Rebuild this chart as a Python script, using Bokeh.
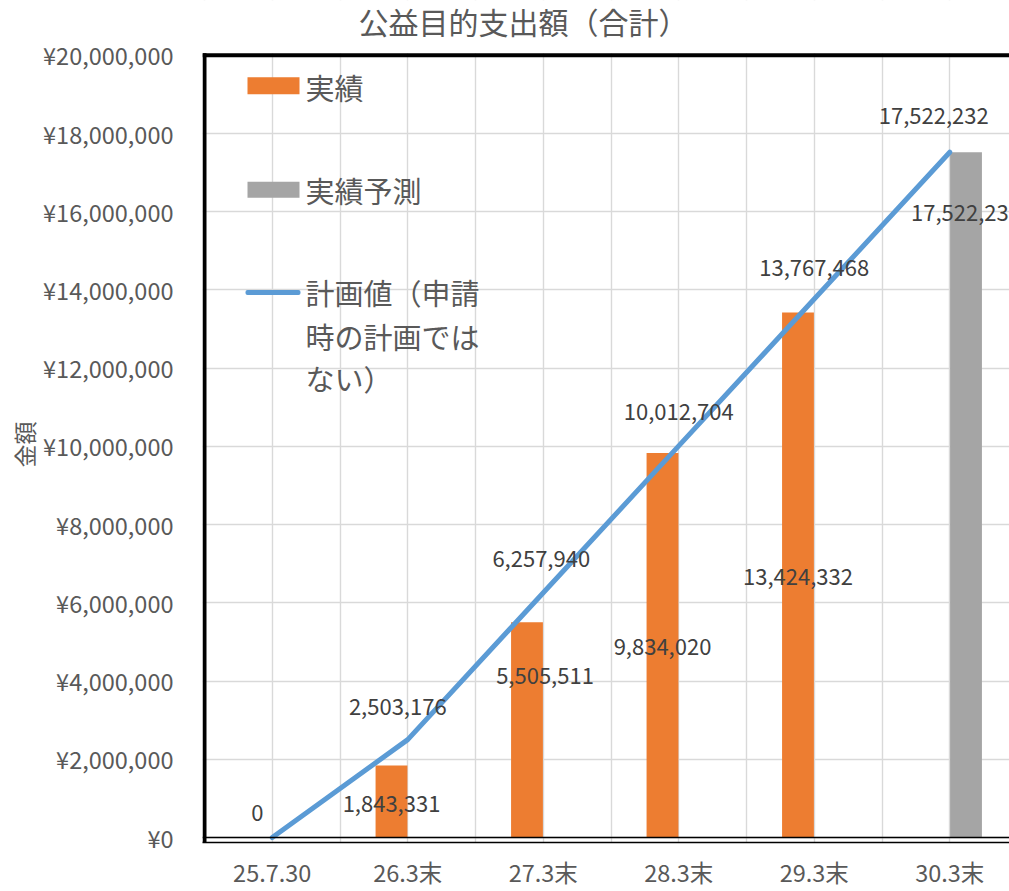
from bokeh.plotting import figure
from bokeh.models import (Range1d, FixedTicker, Span, Label, BoxAnnotation,
                          ColumnDataSource, Title)
from bokeh.core.properties import value
from bokeh.embed import file_html
from bokeh.resources import INLINE

# ---------------- data ----------------
categories = ["25.7.30", "26.3末", "27.3末", "28.3末", "29.3末", "30.3末"]
actual_cats = ["26.3末", "27.3末", "28.3末", "29.3末"]
actual_values = [1843331, 5505511, 9834020, 13424332]
forecast_cats = ["30.3末"]
forecast_values = [17522232]
plan_values = [0, 2503176, 6257940, 10012704, 13767468, 17522232]
y_ticks = [0, 2000000, 4000000, 6000000, 8000000, 10000000,
           12000000, 14000000, 16000000, 18000000, 20000000]
y_tick_labels = ["¥0", "¥2,000,000", "¥4,000,000", "¥6,000,000", "¥8,000,000",
                 "¥10,000,000", "¥12,000,000", "¥14,000,000", "¥16,000,000",
                 "¥18,000,000", "¥20,000,000"]
y_max = 20000000
title_text = "公益目的支出額（合計）"
y_title = "金額"
legend_labels = ["実績", "実績予測", "計画値（申請", "時の計画では", "ない）"]

# ---------------- layout / style (pixels) ----------------
FONT = "Noto Sans CJK JP"
ORANGE, GRAY, BLUE = "#ED7D31", "#A5A5A5", "#5B9BD5"
CAT_PX = 135.5          # px per category
LEFT0_PX = 204          # page x of category axis origin
ZERO_PX = 840           # page y of value 0
PX_PER_UNIT = 39.25 / 1e6
PAGE_M = 0              # the Bokeh page template has no body margin

def sx(px):
    return (px - LEFT0_PX) / CAT_PX

def sy(py):
    return (ZERO_PX - py) / PX_PER_UNIT

frame_left_page, frame_right_page = 202, 1009
frame_top_page, frame_bottom_page = 0, 845
W, H = 1009, 891

p = figure(width=W, height=H, output_backend="svg", toolbar_location=None, title=None,
           x_range=Range1d(sx(frame_left_page), sx(frame_right_page)),
           y_range=Range1d(sy(frame_bottom_page), sy(frame_top_page)),
           min_border_left=frame_left_page - PAGE_M, min_border_right=0,
           min_border_top=frame_top_page - PAGE_M,
           min_border_bottom=H - (frame_bottom_page - PAGE_M))
p.outline_line_color = None
p.background_fill_color = "white"
p.border_fill_color = "white"

# grid
p.xgrid.ticker = FixedTicker(ticks=[k * 0.5 for k in range(2 * len(categories) + 1)])
p.ygrid.ticker = FixedTicker(ticks=y_ticks)
for g in (p.xgrid, p.ygrid):
    g.grid_line_color = "#D9D9D9"
    g.grid_line_width = 1.4

# white band above the plot area (title zone), drawn over the grid
p.add_layout(BoxAnnotation(bottom=sy(53), fill_color="white", fill_alpha=1,
                           line_color=None, level="underlay"))

# axes
p.xaxis.ticker = FixedTicker(ticks=[i + 0.5 for i in range(len(categories))])
p.xaxis.major_label_overrides = {i + 0.5: c for i, c in enumerate(categories)}
p.yaxis.ticker = FixedTicker(ticks=y_ticks)
p.yaxis.major_label_overrides = {t: l for t, l in zip(y_ticks, y_tick_labels)}
for ax in (p.xaxis, p.yaxis):
    ax.major_tick_line_color = None
    ax.minor_tick_line_color = None
    ax.major_tick_out = 0
    ax.major_tick_in = 0
    ax.minor_tick_out = 0
    ax.minor_tick_in = 0
    ax.major_label_text_font = FONT
    ax.major_label_text_font_size = "23.5px"
    ax.major_label_text_color = "#595959"
p.xaxis.axis_line_color = "black"
p.xaxis.axis_line_width = 1.4
p.xaxis.major_label_standoff = 12
p.yaxis.axis_line_color = None
p.yaxis.major_label_standoff = 29

# y-axis title (rotated, centred on the value range)
p.add_layout(Title(text=y_title, align="left", offset=375, standoff=0,
                   text_font=FONT, text_font_size="23px", text_font_style="normal",
                   text_color="#595959"), "left")

# chart title
p.add_layout(Label(x=sx(523), y=sy(21), text=title_text, text_align="center",
                   text_baseline="middle", text_font=FONT, text_font_size="30px",
                   text_color="#595959"))

# borders of the plot area: thick left and top, double line at the bottom
p.add_layout(BoxAnnotation(left=sx(202), right=sx(206), bottom=sy(845), top=sy(53),
                           fill_color="black", fill_alpha=1, line_color=None))
p.add_layout(Span(location=y_max, dimension="width", line_color="black", line_width=4))
p.add_layout(Span(location=0, dimension="width", line_color="black", line_width=1.4))

# bars
DODGE, BAR_W = 0.12, 0.235
ax_x = [categories.index(c) + 0.5 - DODGE for c in actual_cats]
fx_x = [categories.index(c) + 0.5 + DODGE for c in forecast_cats]
p.vbar(x=ax_x, top=actual_values, bottom=0, width=BAR_W, fill_color=ORANGE, line_color=None)
p.vbar(x=fx_x, top=forecast_values, bottom=0, width=BAR_W, fill_color=GRAY, line_color=None)

# plan line
plan_x = [i + 0.5 for i in range(len(categories))]
p.line(x=plan_x, y=plan_values, line_color=BLUE, line_width=5, line_cap="round", line_join="round")

# data labels
lbl_style = dict(text_font=value(FONT), text_font_size="22px", text_color="#404040",
                 text_align="center", text_baseline="middle")
plan_src = ColumnDataSource(dict(x=plan_x, y=plan_values,
                                 t=[f"{v:,}" for v in plan_values],
                                 xo=[-15, -10, -2, 0, 0, -16],
                                 yo=[-25, -33, -34, -34, -31, -36]))
p.text(x="x", y="y", text="t", x_offset="xo", y_offset="yo", source=plan_src, **lbl_style)

bar_src = ColumnDataSource(dict(x=ax_x + fx_x, y=actual_values + forecast_values,
                                t=[f"{v:,}" for v in actual_values + forecast_values],
                                xo=[0, 18, 0, 0, 0],
                                yo=[39, 54, 194, 265, 61]))
p.text(x="x", y="y", text="t", x_offset="xo", y_offset="yo", source=bar_src, **lbl_style)

# legend (drawn manually inside the plot area)
p.add_layout(BoxAnnotation(left=sx(247), right=sx(299), top=sy(77), bottom=sy(94),
                           fill_color=ORANGE, fill_alpha=1, line_color=None))
p.add_layout(BoxAnnotation(left=sx(247), right=sx(299), top=sy(182), bottom=sy(198),
                           fill_color=GRAY, fill_alpha=1, line_color=None))
p.add_layout(BoxAnnotation(left=sx(245), right=sx(300), top=sy(290.5), bottom=sy(295.5),
                           fill_color=BLUE, fill_alpha=1, line_color=None, border_radius=2))
for txt, yy in zip(legend_labels, [87, 190, 293, 337, 379]):
    p.add_layout(Label(x=sx(305), y=sy(yy), text=txt, text_baseline="middle",
                       text_font=FONT, text_font_size="29px", text_color="#595959"))

open("out.html", "w").write(file_html(p, INLINE))
